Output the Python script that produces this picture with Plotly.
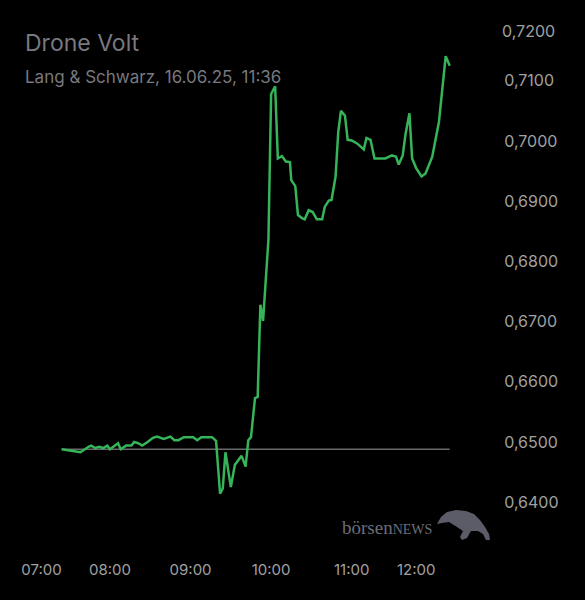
import plotly.graph_objects as go

# ---- data ----
times = ["07:24","07:38","07:44","07:46","07:49","07:52","07:55","07:58","08:00","08:06",
         "08:08","08:12","08:16","08:18","08:21","08:24","08:28","08:32","08:35","08:38",
         "08:40","08:45","08:48","08:51","08:55","09:02","09:05","09:08","09:16","09:19",
         "09:22","09:24","09:26","09:30","09:33","09:38","09:41","09:43","09:45","09:48",
         "09:50","09:52","09:54","09:58","10:00","10:03","10:05","10:08","10:11","10:14",
         "10:15","10:18","10:20","10:23","10:25","10:28","10:31","10:34","10:38","10:40",
         "10:43","10:45","10:48","10:50","10:52","10:55","10:57","11:00","11:04","11:09",
         "11:11","11:14","11:17","11:25","11:30","11:33","11:35","11:38","11:40","11:43",
         "11:45","11:48","11:52","11:55","12:00","12:05","12:10","12:13"]
prices = [0.6488,0.6483,0.6492,0.6494,0.6490,0.6492,0.6490,0.6494,0.6488,0.6498,
          0.6488,0.6494,0.6494,0.6500,0.6498,0.6494,0.6500,0.6507,0.6509,0.6507,
          0.6505,0.6509,0.6503,0.6503,0.6508,0.6508,0.6503,0.6508,0.6508,0.6502,
          0.6414,0.6423,0.6483,0.6425,0.6462,0.6477,0.6459,0.6503,0.6508,0.6573,
          0.6575,0.6728,0.6701,0.6836,0.7078,0.7091,0.6971,0.6975,0.6966,0.6965,
          0.6935,0.6925,0.6877,0.6872,0.6870,0.6885,0.6882,0.6870,0.6870,0.6891,
          0.6901,0.6902,0.6941,0.7015,0.7050,0.7042,0.7002,0.7001,0.6996,0.6986,
          0.7005,0.7002,0.6971,0.6971,0.6976,0.6974,0.6961,0.6976,0.7010,0.7046,
          0.6971,0.6955,0.6941,0.6946,0.6974,0.7032,0.7141,0.7125]
prev_close = 0.6488

x_tick_pos = ["07:09","08:00","09:00","09:60","11:00","11:48"]
x_tick_labels = ["07:00","08:00","09:00","10:00","11:00","12:00"]
y_tick_vals = [0.64,0.65,0.66,0.67,0.68,0.69,0.70,0.71]
y_top_label_val = 0.72

title = "Drone Volt"
subtitle = "Lang & Schwarz, 16.06.25, 11:36"


def to_min(s):
    h, m = s.split(":")
    return int(h) * 60 + int(m)


xs = [to_min(t) for t in times]
xticks = [to_min(t) for t in x_tick_pos]

def de(v):
    return f"{v:.4f}".replace(".", ",")

FONT = "Inter"
XLBL = dict(size=15, color="#a0a0a0", family=FONT)
YLBL = dict(size=16, color="#a0a0a0", family=FONT)
fig = go.Figure()
fig.add_trace(go.Scatter(x=[xs[0], xs[-1]], y=[prev_close, prev_close], mode="lines",
                         line=dict(color="#6a6a6a", width=1.5), hoverinfo="skip"))
fig.add_trace(go.Scatter(x=xs, y=prices, mode="lines",
                         line=dict(color="#35b45a", width=2.5), hoverinfo="skip"))

fig.update_layout(
    width=585, height=600,
    margin=dict(l=0, r=95, t=12, b=68),
    paper_bgcolor="#000000", plot_bgcolor="#000000",
    showlegend=False,
    font=dict(family=FONT, color="#a0a0a0", size=15),
    xaxis=dict(range=[398.1, 763.0], showgrid=False, zeroline=False, showline=False,
               tickvals=xticks, ticktext=x_tick_labels, ticks="outside", ticklen=24,
               tickcolor="rgba(0,0,0,0)", tickfont=XLBL),
    yaxis=dict(range=[0.63505, 0.72143], side="right", showgrid=False, zeroline=False,
               showline=False, tickvals=y_tick_vals, ticktext=[de(v) for v in y_tick_vals],
               ticks="outside", ticklen=10, tickcolor="rgba(0,0,0,0)",
               tickfont=YLBL),
)

fig.add_annotation(xref="paper", yref="y", x=1, y=y_top_label_val, xanchor="left",
                   xshift=10, yshift=-10, text=de(y_top_label_val), showarrow=False,
                   font=YLBL)

fig.add_annotation(xref="paper", yref="paper", x=25/490, y=1-(43-12)/520, xanchor="left",
                   yanchor="middle", text=title, showarrow=False, xshift=-2,
                   font=dict(size=23, color="#78787f", family=FONT))
fig.add_annotation(xref="paper", yref="paper", x=25/490, y=1-(77-12)/520, xanchor="left",
                   yanchor="middle", text=subtitle, showarrow=False, xshift=-2,
                   font=dict(size=17, color="#78787f", family=FONT))

# logo
fig.add_annotation(xref="paper", yref="paper", x=434/490, y=1-(527-12)/520, xanchor="right",
                   yanchor="middle", showarrow=False,
                   text="börsen<span style='font-size:14px'>NEWS</span>",
                   font=dict(size=19, color="#6c6c78", family="Liberation Serif"))
bull = [(437,524),(441,517),(447,512),(456,510),(466,511),(474,514),(480,520),(485,527),
        (489,534),(490,540),(486,540),(483,534),(478,531),(471,531),(467,538),(462,540),
        (460,537),(463,531),(457,527),(449,522),(442,523)]
path = "M " + " L ".join(f"{px/490:.4f},{1-(py-12)/520:.4f}" for px, py in bull) + " Z"
fig.add_shape(type="path", xref="paper", yref="paper", path=path,
              fillcolor="#5c5c68", line=dict(width=0))

fig.write_html("out.html")
